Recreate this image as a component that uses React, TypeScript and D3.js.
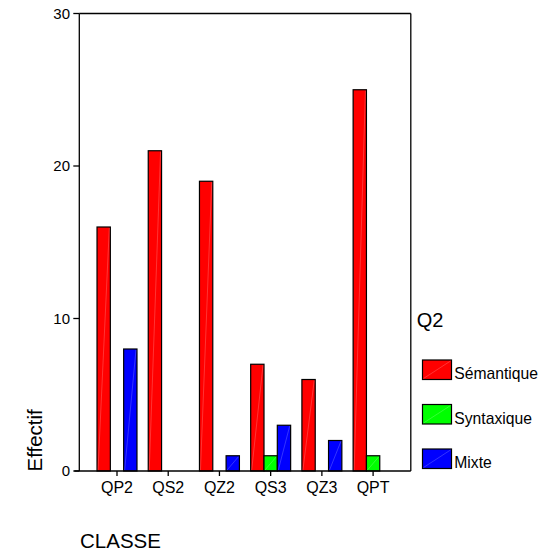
import React from "react";
import * as d3 from "d3";

const categories = ["QP2", "QS2", "QZ2", "QS3", "QZ3", "QPT"];
const seriesNames = ["Sémantique", "Syntaxique", "Mixte"];
const semantique = [16, 21, 19, 7, 6, 25];
const syntaxique = [0, 0, 0, 1, 0, 1];
const mixte = [8, 0, 1, 3, 2, 0];
const yTicks = [0, 10, 20, 30];
const colors = ["#FF0000", "#00FF00", "#0000FF"];

const W = 546;
const H = 557;
const FONT = "Arial, 'Liberation Sans', sans-serif";

export default function App() {
  const left = 79.3;
  const right = 410.8;
  const top = 13.5;
  const bottom = 471;

  const x = d3
    .scaleBand<string>()
    .domain(categories)
    .range([left, right])
    .paddingInner(0.22)
    .paddingOuter(0.346);
  const xs = d3
    .scaleBand<string>()
    .domain(seriesNames)
    .range([0, x.bandwidth()]);
  const y = d3.scaleLinear().domain([0, 30]).range([bottom, top]);

  const series = [semantique, syntaxique, mixte];

  const bars: React.ReactNode[] = [];
  categories.forEach((c, i) => {
    series.forEach((vals, s) => {
      const v = vals[i];
      if (!v) return;
      const bx = (x(c) as number) + (xs(seriesNames[s]) as number);
      const bw = xs.bandwidth();
      const by = y(v);
      const bh = y(0) - y(v);
      bars.push(
        <g key={`${c}-${s}`}>
          <rect x={bx} y={by} width={bw} height={bh} fill={colors[s]} stroke="#000" strokeWidth={1.2} />
          <line
            x1={bx + 1}
            y1={by + bh - 1}
            x2={bx + bw - 1}
            y2={by + 1}
            stroke="#fff"
            strokeOpacity={0.25}
            strokeWidth={0.8}
          />
        </g>
      );
    });
  });

  const legendTops = [360, 404.5, 449];

  return (
    <svg
      width={W}
      height={H}
      style={{ position: "absolute", left: 0, top: 0, background: "#fff" }}
      fontFamily={FONT}
    >
      <rect x={0} y={0} width={W} height={H} fill="#fff" />
      {/* frame */}
      <line x1={left} y1={top} x2={right} y2={top} stroke="#000" strokeWidth={1.3} />
      <line x1={right} y1={top} x2={right} y2={bottom} stroke="#000" strokeWidth={1.3} />
      {bars}
      {/* axes */}
      <line x1={left} y1={top} x2={left} y2={bottom} stroke="#000" strokeWidth={1.3} />
      <line x1={left - 5} y1={bottom} x2={right} y2={bottom} stroke="#000" strokeWidth={1.3} />
      {yTicks.map((t) => (
        <g key={t}>
          <line x1={left - 6} y1={y(t)} x2={left} y2={y(t)} stroke="#000" strokeWidth={1.3} />
          <text x={70} y={y(t)} dy="0.36em" textAnchor="end" fontSize={15} fill="#000">
            {t}
          </text>
        </g>
      ))}
      {categories.map((c) => {
        const cx = (x(c) as number) + x.bandwidth() / 2;
        return (
          <g key={c}>
            <line x1={cx} y1={bottom} x2={cx} y2={bottom + 5} stroke="#000" strokeWidth={1.3} />
            <text x={cx} y={493.3} textAnchor="middle" fontSize={16} fill="#000">
              {c}
            </text>
          </g>
        );
      })}
      <text
        transform={`translate(41.5,471.5) rotate(-90)`}
        fontSize={20.5}
        fill="#000"
        textAnchor="start"
      >
        Effectif
      </text>
      <text x={80} y={548} fontSize={20.5} fill="#000">
        CLASSE
      </text>
      {/* legend */}
      <text x={416.7} y={326.7} fontSize={20} fill="#000">
        Q2
      </text>
      {seriesNames.map((n, i) => (
        <g key={n}>
          <rect x={422.5} y={legendTops[i]} width={29} height={19.5} fill={colors[i]} stroke="#000" strokeWidth={1.2} />
          <line
            x1={423.5}
            y1={legendTops[i] + 18.5}
            x2={450.5}
            y2={legendTops[i] + 1}
            stroke="#fff"
            strokeOpacity={0.25}
            strokeWidth={0.8}
          />
          <text x={454.3} y={legendTops[i] + 19} fontSize={15.7} fill="#000">
            {n}
          </text>
        </g>
      ))}
    </svg>
  );
}
